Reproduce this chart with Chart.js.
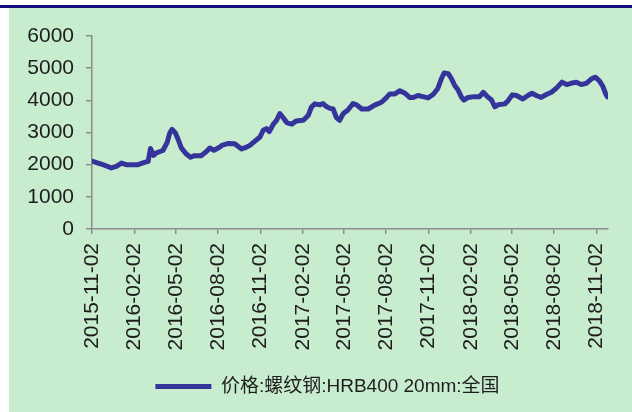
<!DOCTYPE html>
<html>
<head>
<meta charset="utf-8">
<script src="https://cdn.jsdelivr.net/npm/chart.js@4.4.1/dist/chart.umd.min.js"></script>
<style>
  html, body { margin: 0; padding: 0; background: #ffffff; }
  body { width: 632px; height: 412px; position: relative; overflow: hidden; }
  .topbar { position: absolute; left: 0; top: 5px; width: 632px; height: 3px; background: #140a7c; }
  .panel { position: absolute; left: 9px; top: 8px; width: 623px; height: 404px; background: #c8ecce; }
  #steelChart { display: block; }
</style>
</head>
<body>
<div class="topbar"></div>
<div class="panel">
  <canvas id="steelChart" width="623" height="404"></canvas>
</div>
<script>
// 价格:螺纹钢:HRB400 20mm:全国 (元/吨)
const seriesName = "价格:螺纹钢:HRB400 20mm:全国";

const dates = [
  "2015-11-02", "2015-11-22", "2015-12-14", "2015-12-25", "2016-01-05", "2016-01-15",
  "2016-02-10", "2016-02-24", "2016-03-03", "2016-03-08", "2016-03-15", "2016-03-21",
  "2016-04-04", "2016-04-13", "2016-04-19", "2016-04-24", "2016-05-01", "2016-05-07",
  "2016-05-14", "2016-05-25", "2016-06-03", "2016-06-12", "2016-06-26", "2016-07-07",
  "2016-07-15", "2016-07-24", "2016-08-05", "2016-08-10", "2016-08-24", "2016-09-07",
  "2016-09-22", "2016-10-03", "2016-10-10", "2016-10-21", "2016-11-01", "2016-11-08",
  "2016-11-15", "2016-11-21", "2016-11-30", "2016-12-07", "2016-12-14", "2016-12-21",
  "2016-12-29", "2017-01-09", "2017-01-19", "2017-02-03", "2017-02-14", "2017-02-21",
  "2017-02-28", "2017-03-11", "2017-03-18", "2017-03-26", "2017-04-02", "2017-04-09",
  "2017-04-16", "2017-04-23", "2017-05-01", "2017-05-11", "2017-05-22", "2017-05-30",
  "2017-06-10", "2017-06-24", "2017-07-08", "2017-07-23", "2017-08-03", "2017-08-10",
  "2017-08-21", "2017-09-01", "2017-09-12", "2017-09-22", "2017-09-30", "2017-10-10",
  "2017-10-21", "2017-11-01", "2017-11-12", "2017-11-22", "2017-11-30", "2017-12-06",
  "2017-12-15", "2017-12-22", "2017-12-29", "2018-01-05", "2018-01-13", "2018-01-18",
  "2018-01-27", "2018-02-10", "2018-02-21", "2018-03-01", "2018-03-10", "2018-03-19",
  "2018-03-26", "2018-04-02", "2018-04-17", "2018-04-24", "2018-05-03", "2018-05-12",
  "2018-05-26", "2018-06-06", "2018-06-15", "2018-06-24", "2018-07-05", "2018-07-16",
  "2018-07-27", "2018-08-07", "2018-08-19", "2018-08-29", "2018-09-08", "2018-09-19",
  "2018-09-30", "2018-10-11", "2018-10-22", "2018-10-31", "2018-11-09", "2018-11-16",
  "2018-11-22", "2018-11-26"
];

const prices = [
  2110, 2020, 1900, 1950, 2050, 2000,
  2000, 2070, 2100, 2500, 2290, 2370,
  2440, 2680, 2990, 3100, 2990, 2790,
  2520, 2330, 2230, 2280, 2280, 2400,
  2520, 2450, 2540, 2600, 2660, 2650,
  2490, 2545, 2600, 2730, 2860, 3070,
  3120, 3025, 3260, 3380, 3590, 3465,
  3310, 3260, 3360, 3380, 3540, 3800,
  3890, 3860, 3900, 3800, 3750, 3730,
  3465, 3380, 3590, 3700, 3900, 3860,
  3730, 3730, 3850, 3940, 4090, 4200,
  4200, 4300, 4220, 4090, 4090, 4150,
  4115, 4075, 4180, 4360, 4670, 4850,
  4830, 4670, 4460, 4330, 4090, 4010,
  4090, 4115, 4115, 4250, 4115, 4010,
  3800, 3860, 3890, 3990, 4170, 4150,
  4040, 4150, 4220, 4150, 4090, 4180,
  4250, 4380, 4565, 4490, 4530, 4565,
  4490, 4530, 4670, 4720, 4590, 4430,
  4200, 4110
];

const tickLabels = [
  "2015-11-02", "2016-02-02", "2016-05-02", "2016-08-02", "2016-11-02",
  "2017-02-02", "2017-05-02", "2017-08-02", "2017-11-02", "2018-02-02",
  "2018-05-02", "2018-08-02", "2018-11-02"
];

const xStart = "2015-11-02";
const xEnd = "2018-11-27";
const yTicks = [0, 1000, 2000, 3000, 4000, 5000, 6000];

function toDay(s) {
  const p = s.split("-").map(Number);
  const q = xStart.split("-").map(Number);
  return Math.round((Date.UTC(p[0], p[1] - 1, p[2]) - Date.UTC(q[0], q[1] - 1, q[2])) / 86400000);
}

const points = dates.map((d, i) => ({ x: toDay(d), y: prices[i] }));
const tickDays = tickLabels.map(toDay);

const lineColor = "#34349b";
const axisColor = "#8c8c8c";
const textColor = "#1e1e1e";
const font = "'Liberation Sans', Arial, 'Noto Sans CJK SC', sans-serif";

// the legend in the original sits a bit right of the canvas centre
const legendShift = {
  id: "legendShift",
  afterUpdate: function (chart) {
    chart.legend.left += 10;
    chart.legend.right += 10;
  }
};

const ctx = document.getElementById("steelChart").getContext("2d");

new Chart(ctx, {
  type: "line",
  data: {
    datasets: [{
      label: seriesName,
      data: points,
      borderColor: lineColor,
      backgroundColor: lineColor,
      borderWidth: 5,
      pointRadius: 0,
      tension: 0,
      borderJoinStyle: "round",
      borderCapStyle: "round"
    }]
  },
  plugins: [legendShift],
  options: {
    responsive: false,
    animation: false,
    layout: {
      padding: { left: 18, right: 24, top: 28, bottom: 6 }
    },
    plugins: {
      legend: {
        position: "bottom",
        labels: {
          color: textColor,
          font: { size: 19, family: font },
          usePointStyle: true,
          pointStyle: "line",
          pointStyleWidth: 56,
          boxHeight: 5,
          padding: 10
        }
      },
      tooltip: { enabled: false }
    },
    scales: {
      x: {
        type: "linear",
        min: toDay(xStart),
        max: toDay(xEnd),
        afterBuildTicks: function (axis) {
          axis.ticks = tickDays.map(v => ({ value: v }));
        },
        afterFit: function (axis) {
          axis.height = 138;
        },
        grid: {
          drawOnChartArea: false,
          drawTicks: true,
          tickLength: 5,
          color: axisColor,
          lineWidth: 1.5
        },
        border: { display: true, color: axisColor, width: 1.5 },
        ticks: {
          autoSkip: false,
          maxRotation: 90,
          minRotation: 90,
          padding: 9,
          color: textColor,
          font: { size: 21, family: font },
          callback: function (value) {
            const i = tickDays.indexOf(value);
            return i >= 0 ? tickLabels[i] : "";
          }
        }
      },
      y: {
        min: yTicks[0],
        max: yTicks[yTicks.length - 1],
        afterBuildTicks: function (axis) {
          axis.ticks = yTicks.map(v => ({ value: v }));
        },
        afterFit: function (axis) {
          axis.width = 65;
        },
        grid: {
          drawOnChartArea: false,
          drawTicks: true,
          tickLength: 6,
          color: axisColor,
          lineWidth: 1.5
        },
        border: { display: true, color: axisColor, width: 1.5 },
        ticks: {
          padding: 12,
          color: textColor,
          font: { size: 21, family: font },
          callback: function (value) { return String(value); }
        }
      }
    }
  }
});
</script>
</body>
</html>
